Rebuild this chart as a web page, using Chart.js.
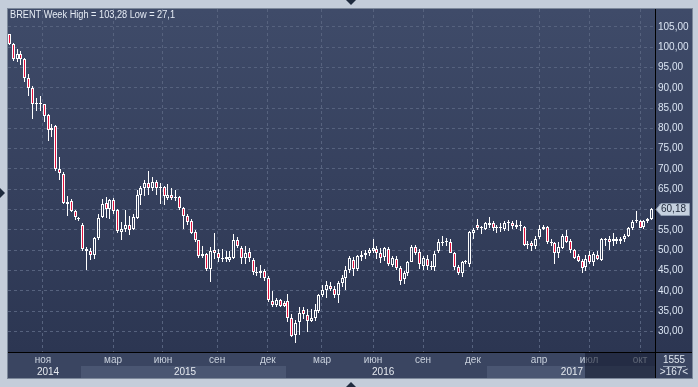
<!DOCTYPE html>
<html>
<head>
<meta charset="utf-8">
<script src="https://cdn.jsdelivr.net/npm/chart.js@4.4.1/dist/chart.umd.min.js"></script>
<style>
  html, body { margin: 0; padding: 0; background: #c4cdda; }
  #c { display: block; }
</style>
</head>
<body>
<canvas id="c" width="698" height="387"></canvas>
<script>
// weekly candles
const opens = [103.2,100.8,97.1,98.4,97.0,92.3,90.0,86.0,86.3,85.9,83.2,79.5,80.5,69.9,68.8,61.3,62.0,59.6,58.0,56.2,
  50.2,49.8,48.8,53.0,58.1,61.6,60.1,62.4,59.8,54.4,55.1,56.1,55.3,58.0,63.7,65.3,66.5,65.3,66.8,65.3,
  65.5,62.9,63.6,62.8,63.0,60.3,58.4,57.1,54.6,52.4,48.5,49.0,45.4,50.0,49.3,48.1,47.8,47.7,48.2,52.4,
  50.6,48.0,49.5,47.6,44.5,44.4,44.9,43.2,37.6,36.4,37.8,37.0,37.4,33.4,29.1,32.2,35.2,34.0,32.6,33.2,
  35.0,38.9,40.2,41.3,40.5,38.9,41.9,43.1,45.2,47.6,45.3,48.4,48.8,49.4,49.9,50.4,49.3,48.4,50.4,46.4,
  47.8,45.7,43.0,44.4,47.0,50.8,49.6,46.2,47.8,45.9,45.8,49.8,51.8,51.9,51.9,49.4,45.8,44.5,47.0,46.6,
  54.3,56.1,55.35,55.1,56.7,56.7,55.45,55.4,55.3,56.6,56.8,55.7,56.0,55.8,51.3,51.7,51.0,53.3,55.1,55.7,
  51.95,51.7,49.4,50.6,53.6,52.3,50.0,48.6,47.4,45.8,48.8,47.0,48.8,47.6,52.5,52.7,52.2,52.8,52.3,52.7,
  53.5,55.4,57.1,57.1,55.6,57.2,57.8];
const highs = [103.28,101.0,99.5,99.0,97.4,93.3,90.4,87.5,87.9,86.0,83.6,81.0,80.9,73.0,69.2,63.3,62.5,60.0,58.2,56.8,
  50.8,50.6,53.2,59.0,62.5,63.1,62.6,62.8,60.2,57.0,59.8,58.3,58.8,64.9,65.8,67.3,69.6,68.0,67.4,66.5,
  65.7,66.3,65.4,64.9,63.3,60.6,58.9,57.6,55.0,52.6,51.0,49.4,50.9,54.3,50.2,50.2,49.7,49.8,53.9,53.2,
  51.0,51.0,50.5,48.2,45.8,46.4,45.4,43.6,39.9,38.3,38.0,37.5,39.1,34.3,32.7,36.0,36.0,35.6,35.6,36.8,
  39.2,41.5,42.5,42.2,41.2,42.3,44.0,46.2,48.6,48.3,48.8,49.7,50.0,50.6,52.8,51.0,50.6,50.9,50.9,48.6,
  48.6,46.0,45.0,47.4,51.4,51.2,50.2,48.6,48.8,47.4,49.8,52.8,53.6,53.1,52.7,49.6,46.3,47.4,47.6,54.8,
  55.5,57.6,55.9,57.0,58.2,57.1,56.1,56.7,57.1,57.4,57.1,57.4,57.1,56.0,52.3,52.3,53.5,56.3,56.3,55.9,
  52.8,52.0,51.9,53.9,54.9,52.7,50.4,49.0,47.8,48.8,49.8,49.6,49.8,52.9,53.1,53.5,54.3,53.2,53.3,54.0,
  55.7,57.4,59.6,57.4,57.4,58.0,60.4];
const lows = [100.5,96.5,96.3,95.7,91.4,87.9,82.3,84.2,84.4,81.6,76.8,77.9,69.6,67.4,61.3,58.3,59.3,57.5,57.3,49.7,
  45.2,47.6,47.8,52.5,57.9,58.0,57.8,58.8,54.3,52.4,54.6,53.7,55.0,57.6,61.2,63.4,63.5,64.6,63.5,61.4,
  61.2,62.3,62.4,62.0,60.0,55.1,56.2,53.9,52.1,48.2,48.2,45.0,42.1,47.8,47.0,47.0,47.0,47.0,47.8,50.6,
  46.6,46.6,47.0,43.9,43.7,43.2,42.3,37.3,36.0,35.9,35.9,35.9,32.2,28.6,27.1,29.1,33.0,29.9,32.3,32.5,
  34.6,38.5,38.2,39.9,38.2,37.0,41.0,40.1,44.5,43.7,44.9,47.3,47.8,48.6,49.3,47.8,46.8,47.3,46.2,45.8,
  45.2,41.4,41.6,43.7,47.0,48.8,45.4,45.2,45.2,45.2,45.0,49.3,51.0,51.0,49.2,45.2,43.9,43.3,46.6,45.8,
  52.8,54.9,54.1,54.9,55.5,54.7,54.2,54.5,54.7,54.7,55.1,55.1,54.7,51.0,50.2,49.8,50.2,52.7,54.9,51.5,
  51.0,46.6,48.2,50.2,51.7,49.4,47.8,47.0,44.4,45.0,46.6,46.2,47.6,47.4,51.0,50.1,51.0,51.6,51.5,52.1,
  53.2,54.9,56.7,55.4,55.2,56.6,57.4];
const closes = [100.8,97.1,98.4,97.0,92.3,90.0,86.0,86.2,85.9,83.0,79.5,80.2,69.9,68.9,61.6,61.9,59.6,58.1,57.6,50.2,
  49.7,48.7,52.9,58.0,61.5,60.1,62.3,59.7,54.7,55.1,56.2,55.0,58.1,63.6,65.4,66.6,65.3,66.8,65.3,65.6,
  63.3,63.7,62.9,63.1,60.3,58.4,57.0,54.3,52.6,48.5,49.0,45.3,49.8,49.4,48.0,47.9,48.4,48.4,52.4,51.0,
  48.0,49.4,48.0,44.6,44.4,45.0,43.1,37.7,36.4,37.8,36.3,36.2,33.2,28.9,32.1,34.6,34.4,32.6,33.3,35.2,
  38.9,40.2,41.5,40.5,38.9,41.9,43.1,45.2,48.2,45.3,48.6,48.8,49.3,50.1,50.6,49.3,48.2,50.6,46.6,48.0,
  45.7,42.5,44.3,47.0,50.9,49.4,46.6,48.0,46.0,46.1,49.0,51.9,52.0,52.05,49.4,45.8,44.4,47.0,47.1,54.5,
  54.9,55.4,55.5,56.7,56.1,55.5,55.55,55.7,56.8,57.0,55.9,56.1,55.9,51.2,51.5,51.0,52.8,55.1,55.7,51.9,
  51.8,49.4,50.9,53.6,52.0,50.0,48.2,47.4,45.5,47.9,47.0,49.0,47.9,52.7,52.8,52.0,52.8,52.2,52.8,53.6,
  55.5,56.9,57.4,55.5,57.2,57.8,60.18];

const monthTicks = [8.7, 26.8, 39.7, 53.7, 66.8, 80.8, 94.0, 106.9, 119.8, 136.9, 149.8, 163.0];
const monthLabels = ['ноя','мар','июн','сен','дек','мар','июн','сен','дек','апр','июл','окт'];
const yearTicks = [10, 45.4, 96.6, 145.4];
const yearLabels = ['2014','2015','2016','2017'];
const yearBands = [[18.5, 71.5], [123.5, 167]];
const priceTicks = [30,35,40,45,50,55,60,65,70,75,80,85,90,95,100,105];
const barsCount = '1555';
const visibleCount = '>167<';
const shadeFrom = 148.8;

const comma = v => String(v).replace('.', ',');
const titleText = 'BRENT Week High = ' + comma(Math.max(...highs)) + ' Low = ' + comma(Math.min(...lows));

const idx = closes.map((c, i) => i);
const bodies = idx.map(i => ({x: i, y: [opens[i], closes[i]]}));
const upWick = idx.map(i => ({x: i, y: [Math.max(opens[i], closes[i]), highs[i]]}));
const loWick = idx.map(i => ({x: i, y: [lows[i], Math.min(opens[i], closes[i])]}));
const bodyFill = idx.map(i => closes[i] < opens[i] ? '#e2123e' : 'rgba(0,0,0,0)');

const gridColor = '#56627e';
const font = '"Liberation Sans", Arial, sans-serif';
Chart.defaults.font.family = font;
Chart.defaults.font.size = 10;

// keep candles on whole pixels so they stay crisp
const snapBars = {
  id: 'snapBars',
  beforeDatasetsDraw(chart) {
    chart.data.datasets.forEach((ds, di) => {
      chart.getDatasetMeta(di).data.forEach(el => {
        el.x = Math.floor(el.x) + 0.5;
        el.y = Math.round(el.y);
        el.base = Math.round(el.base);
        if (di === 0 && Math.abs(el.y - el.base) < 1) el.base = el.y + 1;
      });
    });
  }
};

const frame = {
  id: 'frame',
  beforeDraw(chart) {
    const c = chart.ctx, a = chart.chartArea, xs = chart.scales.x;
    const R = 692, B = 378;
    c.save();
    c.fillStyle = '#c4cdda';
    c.fillRect(0, 0, chart.width, chart.height);
    const g = c.createLinearGradient(0, a.top, 0, a.bottom);
    g.addColorStop(0, '#3f4b69');
    g.addColorStop(1, '#2c3652');
    c.fillStyle = g;
    c.fillRect(a.left, a.top, R - a.left, a.bottom - a.top);
    c.fillStyle = '#3a4561';
    c.fillRect(a.left, a.bottom, R - a.left, B - a.bottom);
    c.fillStyle = '#4a5672';
    yearBands.forEach(([s, e]) => {
      const x1 = Math.max(a.left, xs.getPixelForValue(s));
      const x2 = Math.min(a.right, xs.getPixelForValue(e));
      c.fillRect(Math.round(x1), 366, Math.round(x2 - x1), B - 366);
    });
    c.restore();
  },
  afterDraw(chart) {
    const c = chart.ctx, a = chart.chartArea, xs = chart.scales.x, ys = chart.scales.y;
    const R = 692, B = 378;
    c.save();
    // shaded tail of the time strip
    const sx = Math.round(xs.getPixelForValue(shadeFrom));
    c.fillStyle = 'rgba(22,29,48,0.6)';
    c.fillRect(sx, a.bottom, a.right - sx, B - a.bottom);
    // separators
    c.strokeStyle = '#000';
    c.lineWidth = 1;
    c.beginPath();
    c.moveTo(a.left, a.bottom + 0.5); c.lineTo(R, a.bottom + 0.5);
    c.moveTo(a.right + 0.5, a.top); c.lineTo(a.right + 0.5, B);
    c.stroke();
    c.strokeStyle = '#7c889a';
    c.strokeRect(a.left - 0.5, a.top - 0.5, R - a.left + 1, B - a.top + 1);
    // title
    c.fillStyle = '#e6ecf5';
    c.font = '10px ' + font;
    c.textBaseline = 'middle';
    c.translate(10, 15);
    c.scale(0.92, 1);
    c.fillText(titleText, 0, 0);
    c.setTransform(1, 0, 0, 1, 0, 0);
    // last price marker
    const last = closes[closes.length - 1];
    const py = Math.round(ys.getPixelForValue(last)) + 0.5;
    c.beginPath();
    c.moveTo(656, py);
    c.lineTo(661, py - 6);
    c.lineTo(689.5, py - 6);
    c.lineTo(689.5, py + 6);
    c.lineTo(661, py + 6);
    c.closePath();
    c.fillStyle = '#c6d1df';
    c.fill();
    c.strokeStyle = '#8d9bb0';
    c.stroke();
    c.fillStyle = '#1c2638';
    c.fillText(last.toFixed(2).replace('.', ','), 661, py);
    // bottom right counters
    c.fillStyle = '#dfe6ef';
    c.textAlign = 'center';
    c.fillText(barsCount, 674, 360);
    c.fillText(visibleCount, 674, 372);
    c.strokeStyle = '#9aa6b8';
    c.beginPath();
    c.moveTo(663, 366.5); c.lineTo(686, 366.5);
    c.stroke();
    // little arrows on the frame
    c.fillStyle = '#1f2b3e';
    c.beginPath(); c.moveTo(346, 0); c.lineTo(356, 0); c.lineTo(351, 5); c.closePath(); c.fill();
    c.beginPath(); c.moveTo(346, 387); c.lineTo(356, 387); c.lineTo(351, 382); c.closePath(); c.fill();
    c.beginPath(); c.moveTo(0, 188); c.lineTo(0, 198); c.lineTo(5, 193); c.closePath(); c.fill();
    c.restore();
  }
};

new Chart(document.getElementById('c'), {
  type: 'bar',
  data: {
    datasets: [
      { data: bodies, barThickness: 3, borderWidth: 1, borderColor: '#ffffff', backgroundColor: bodyFill,
        borderSkipped: false, grouped: false, minBarLength: 1, inflateAmount: 0 },
      { data: upWick, barThickness: 1, borderWidth: 0, backgroundColor: '#ffffff', grouped: false, inflateAmount: 0 },
      { data: loWick, barThickness: 1, borderWidth: 0, backgroundColor: '#ffffff', grouped: false, inflateAmount: 0 }
    ]
  },
  options: {
    responsive: false,
    animation: false,
    events: [],
    layout: { padding: { left: 8, top: 7, right: 6, bottom: 9 } },
    plugins: { legend: { display: false }, tooltip: { enabled: false } },
    scales: {
      x: {
        type: 'linear', position: 'bottom', weight: 0,
        min: -0.34, max: 166.85, offset: false,
        afterBuildTicks: s => { s.ticks = monthTicks.map(v => ({ value: v })); },
        afterFit: s => { s.height = 14; },
        ticks: { autoSkip: false, maxRotation: 0, minRotation: 0, padding: 2, color: '#c9d1dd',
          callback: (v, i) => monthLabels[i] },
        grid: { color: gridColor, drawTicks: false, offset: false },
        border: { display: false, dash: [3, 3] }
      },
      x2: {
        type: 'linear', position: 'bottom', weight: 1,
        min: -0.34, max: 166.85, offset: false,
        afterBuildTicks: s => { s.ticks = yearTicks.map(v => ({ value: v })); },
        afterFit: s => { s.height = 12; },
        ticks: { autoSkip: false, maxRotation: 0, minRotation: 0, padding: 0, color: '#e6eaf0',
          callback: (v, i) => yearLabels[i] },
        grid: { display: false, drawTicks: false },
        border: { display: false }
      },
      y: {
        type: 'linear', position: 'right',
        min: 24.93, max: 109.4,
        afterBuildTicks: s => { s.ticks = priceTicks.map(v => ({ value: v })); },
        afterFit: s => { s.width = 37; },
        ticks: { padding: 3, color: '#dbe5f3', callback: v => v.toFixed(2).replace('.', ',') },
        grid: { color: gridColor, drawTicks: false },
        border: { display: false, dash: [3, 3] }
      }
    }
  },
  plugins: [frame, snapBars]
});
</script>
</body>
</html>
